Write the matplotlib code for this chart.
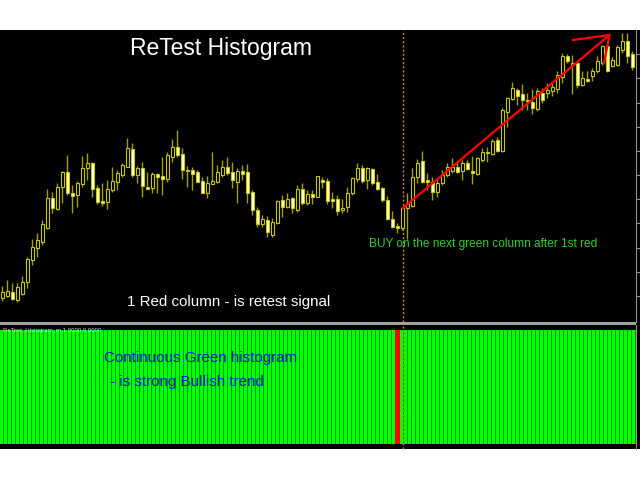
import matplotlib
matplotlib.use('Agg')
import matplotlib.pyplot as plt
import matplotlib.transforms as mtransforms
from matplotlib.patches import Rectangle

plt.rcParams['font.family'] = ['Liberation Sans', 'DejaVu Sans']

# candles (price in points)
opens = [32, 34, 38, 30, 36, 48, 70, 82, 88, 102, 132, 121, 143, 158, 137, 135, 146, 162, 167, 142,
         129, 128, 140, 148, 155, 163, 181, 155, 162, 143, 142, 156, 154, 151, 173, 183, 176, 160, 160, 158,
         149, 137, 146, 148, 155, 163, 158, 148, 159, 158, 138, 120, 106, 110, 95, 107, 130, 123, 132, 120,
         141, 127, 136, 133, 150, 149, 131, 131, 120, 123, 137, 151, 162, 150, 161, 148, 142, 130, 111, 104,
         102, 122, 124, 153, 169, 150, 148, 138, 147, 155, 159, 163, 159, 167, 159, 156, 170, 178, 176, 190,
         179, 218, 231, 240, 236, 230, 228, 221, 237, 237, 239, 241, 253, 274, 265, 267, 245, 251, 254, 259,
         267, 284, 264, 265, 280, 289, 276]
highs = [44, 50, 47, 47, 54, 73, 91, 97, 110, 141, 138, 147, 159, 175, 145, 149, 174, 177, 168, 145,
         147, 150, 163, 160, 167, 192, 187, 164, 168, 158, 158, 157, 173, 178, 191, 200, 182, 164, 163, 160,
         153, 154, 178, 165, 170, 173, 168, 162, 165, 166, 140, 123, 115, 114, 112, 130, 135, 137, 133, 145,
         147, 140, 140, 154, 153, 152, 138, 135, 131, 143, 153, 167, 165, 163, 162, 156, 143, 134, 119, 107,
         123, 137, 162, 171, 179, 157, 153, 152, 160, 167, 172, 168, 170, 170, 174, 173, 182, 183, 191, 193,
         222, 233, 248, 242, 246, 237, 241, 242, 242, 247, 247, 259, 277, 276, 275, 269, 259, 259, 262, 274,
         285, 285, 273, 285, 297, 297, 279]
lows = [29, 33, 30, 28, 35, 42, 65, 73, 85, 101, 117, 120, 127, 135, 117, 123, 143, 150, 133, 126,
        124, 121, 138, 140, 153, 163, 153, 147, 133, 141, 137, 137, 135, 148, 168, 173, 151, 143, 140, 148,
        137, 132, 146, 147, 153, 155, 142, 127, 150, 127, 115, 103, 103, 93, 93, 106, 113, 122, 117, 118,
        125, 125, 126, 133, 142, 126, 122, 115, 117, 118, 135, 148, 147, 141, 145, 140, 128, 110, 102, 97,
        100, 91, 123, 147, 147, 140, 130, 133, 145, 153, 157, 157, 150, 160, 146, 155, 168, 168, 175, 178,
        178, 203, 230, 225, 220, 220, 216, 219, 227, 232, 234, 237, 247, 267, 236, 242, 244, 248, 249, 257,
        265, 258, 263, 264, 277, 267, 260]
closes = [38, 39, 31, 43, 48, 71, 83, 90, 106, 132, 122, 143, 158, 137, 134, 147, 162, 167, 141, 128,
          127, 141, 149, 157, 165, 182, 155, 162, 144, 141, 156, 153, 151, 175, 183, 175, 160, 159, 156, 148,
          137, 147, 149, 158, 163, 157, 150, 159, 156, 137, 120, 106, 111, 98, 108, 129, 123, 131, 122, 141,
          127, 136, 133, 154, 148, 129, 129, 119, 122, 137, 152, 162, 149, 162, 147, 141, 130, 111, 103, 102,
          122, 127, 153, 167, 148, 148, 138, 147, 155, 163, 163, 158, 167, 161, 157, 172, 178, 177, 189, 179,
          220, 232, 242, 234, 230, 229, 222, 239, 230, 240, 243, 255, 274, 269, 267, 245, 252, 249, 259, 269,
          284, 259, 270, 283, 289, 274, 263]

# histogram: one column per bar, value 1.0, the retest bar is red
hist_values = [1.0] * 159
retest_bar = 99
signal_candle = 80

# red trend arrow drawn on the price chart
arrow_x = [80.1, 121.4]
arrow_y = [122, 295]
head_x = [114.1, 121.4, 120.3]
head_y = [290, 295, 267]

price_ticks = [276, 252, 227, 203, 179, 155, 131, 107, 82, 58, 34]

W, H = 640, 480


def fx(px):
    return px / W


def fy(py):
    return 1 - py / H


fig = plt.figure(figsize=(6.4, 4.8), dpi=100, facecolor='white')
fig.add_artist(Rectangle((0, fy(449)), 1, (449 - 30) / H, transform=fig.transFigure,
                         facecolor='black', edgecolor='none', zorder=0))
fig.add_artist(Rectangle((0, fy(324.5)), fx(636), 3 / H, transform=fig.transFigure,
                         facecolor='#a0a0a0', edgecolor='none', zorder=1))

ax = fig.add_axes([0, fy(321.5), fx(636), (321.5 - 30) / H])
axh = fig.add_axes([0, fy(449), fx(636), (449 - 324.5) / H])

for a in (ax, axh):
    a.set_facecolor('black')
    for s in ('top', 'left', 'bottom'):
        a.spines[s].set_visible(False)
    a.spines['right'].set_color('#909090')
    a.set_xticks([])
    a.yaxis.tick_right()
    a.tick_params(axis='y', colors='#909090', length=3, width=0.8, labelright=False)

# candles
wick_col = '#a0a000'
edge_col = '#c8c800'
for i in range(len(opens)):
    o, h, l, c = opens[i], highs[i], lows[i], closes[i]
    ax.vlines(i, l, h, color=wick_col, lw=1.0, zorder=2)
    bull = c >= o
    ax.bar(i, max(abs(c - o), 1), bottom=min(o, c), width=0.7,
           facecolor='black' if bull else '#ffffd8', edgecolor=edge_col,
           linewidth=0.8, zorder=3)

ax.set_xlim(-0.46, 126.7)
ax.set_ylim(8.5, 300)
ax.set_yticks(price_ticks)

ax.axvline(signal_candle + 0.04, color='#cd853f', lw=1.0, ls=(0, (1.5, 1.5)), zorder=1)
ax.plot(arrow_x, arrow_y, color='red', lw=1.6, zorder=4)
ax.plot(head_x, head_y, color='red', lw=1.6, zorder=4)

# histogram
idx = list(range(len(hist_values)))
axh.axhspan(0, 1, color='#009800', lw=0, zorder=1)
green_idx = [j for j in idx if j != retest_bar]
axh.bar(green_idx, [hist_values[j] for j in green_idx], width=0.72, color='#00ff00',
        linewidth=0, zorder=2)
axh.bar(retest_bar, hist_values[retest_bar], width=1.15, color='#ff0000', linewidth=0, zorder=2)
axh.set_xlim(-0.425, 158.6)
axh.set_ylim(-0.044, 1.048)
axh.set_yticks([])
blend = mtransforms.blended_transform_factory(ax.transData, axh.transAxes)
axh.plot([signal_candle + 0.04] * 2, [0, 1], transform=blend, color='#cd853f', lw=1.0,
         ls=(0, (1.5, 1.5)), zorder=3, clip_on=False)
axh.text(0.005, 0.97, 'ReTest_Histogram_m 1.0000 0.0000', transform=axh.transAxes,
         fontsize=4.3, color='#e0e0e0', ha='left', va='top', zorder=5)

fig.text(fx(130), fy(55), 'ReTest Histogram', color='white', fontsize=16.5,
         ha='left', va='baseline')
fig.text(fx(127), fy(306), '1 Red column - is retest signal', color='white', fontsize=10.9,
         ha='left', va='baseline')
fig.text(fx(369), fy(247), 'BUY on the next green column after 1st red', color='#32cd32',
         fontsize=8.6, ha='left', va='baseline')
fig.text(fx(104), fy(362), 'Continuous Green histogram', color='#1515e0', fontsize=10.9,
         ha='left', va='baseline')
fig.text(fx(110), fy(386), '- is strong Bullish trend', color='#1515e0', fontsize=10.9,
         ha='left', va='baseline')

fig.savefig('out.png', dpi=100, facecolor='white')
